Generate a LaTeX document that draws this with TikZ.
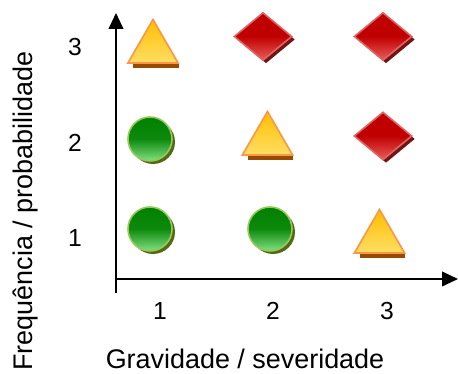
\documentclass[tikz,border=0pt]{standalone}
\usepackage{fontspec}
\setmainfont{Liberation Sans}
\usetikzlibrary{arrows.meta, shapes.geometric}
\usepackage{xcolor}
\definecolor{verdeesc}{RGB}{0, 128, 0}
\definecolor{verdeclaro}{RGB}{130, 225, 130}
\definecolor{verdeborda}{RGB}{150, 200, 90}
\definecolor{oliva}{RGB}{85, 105, 20}
\definecolor{amarelo}{RGB}{255, 190, 0}
\definecolor{amareloclaro}{RGB}{255, 222, 100}
\definecolor{laranja}{RGB}{250, 150, 70}
\definecolor{marrom}{RGB}{150, 75, 0}
\definecolor{vermelho}{RGB}{192, 0, 0}
\definecolor{vermelhoclaro}{RGB}{232, 92, 92}
\definecolor{rosa}{RGB}{225, 100, 100}
\definecolor{vinho}{RGB}{115, 20, 20}

\begin{document}
\begin{tikzpicture}[
    x=0.75pt, y=0.75pt,
    every node/.style={font=\fontsize{18.5}{22}\selectfont},
    titulo/.style={font=\fontsize{20.2}{24}\selectfont},
    bola/.style={
        circle,
        draw=verdeborda,
        line width=1.2pt,
        minimum size=33pt,
        inner sep=0pt,
        top color=verdeesc,
        bottom color=verdeclaro,
        middle color=verdeesc!90!verdeclaro,
        preaction={fill=oliva, transform canvas={shift={(3,-3)}}}
    },
    triangulo/.style={
        regular polygon,
        regular polygon sides=3,
        draw=laranja,
        line width=1.2pt,
        minimum size=43.5pt,
        inner sep=0pt,
        top color=amarelo,
        bottom color=amareloclaro,
        label={[fill=marrom, inner sep=0pt, minimum width=34pt,
                minimum height=3pt, xshift=2.25pt, label distance=0pt]below:{}}
    },
    losango/.style={
        diamond,
        draw=rosa,
        line width=1.2pt,
        minimum width=43.5pt,
        minimum height=36pt,
        inner sep=0pt,
        top color=vermelho,
        bottom color=vermelhoclaro,
        middle color=vermelho,
        preaction={fill=vinho, transform canvas={shift={(3,-3)}}}
    },
    seta/.style={
        -{Triangle[length=12pt, width=11pt]},
        line width=1.5pt
    }
]
\useasboundingbox (0,0) rectangle (458,374);

% Eixos
\coordinate (origem) at (116,95);
\coordinate (fundo) at (116,81);
\coordinate (topo) at (116,361);
\coordinate (direita) at (458,95);
\draw[seta] (fundo) -- (topo);
\draw[seta] (origem) -- (direita);

% Valores dos eixos
\node (x1) at (160,63) {1};
\node (x2) at (273,63) {2};
\node (x3) at (387,63) {3};
\node (y1) at (75,136) {1};
\node (y2) at (75,231) {2};
\node (y3) at (75,327) {3};

% Titulos
\node[titulo, anchor=base] (gravidade) at (245,5) {Gravidade / severidade};
\node[titulo, rotate=90, anchor=base] (frequencia) at (32,163) {Frequência / probabilidade};

% Linha 3
\node[triangulo] (t31) at (153,325.5) {};
\node[losango] (l32) at (263,337.5) {};
\node[losango] (l33) at (383,337.5) {};

% Linha 2
\node[bola] (b21) at (150,235) {};
\node[triangulo] (t22) at (267.5,233.5) {};
\node[losango] (l23) at (383,238) {};

% Linha 1
\node[bola] (b11) at (150,145) {};
\node[bola] (b12) at (270,145) {};
\node[triangulo] (t13) at (379.5,135.5) {};

\end{tikzpicture}
\end{document}
